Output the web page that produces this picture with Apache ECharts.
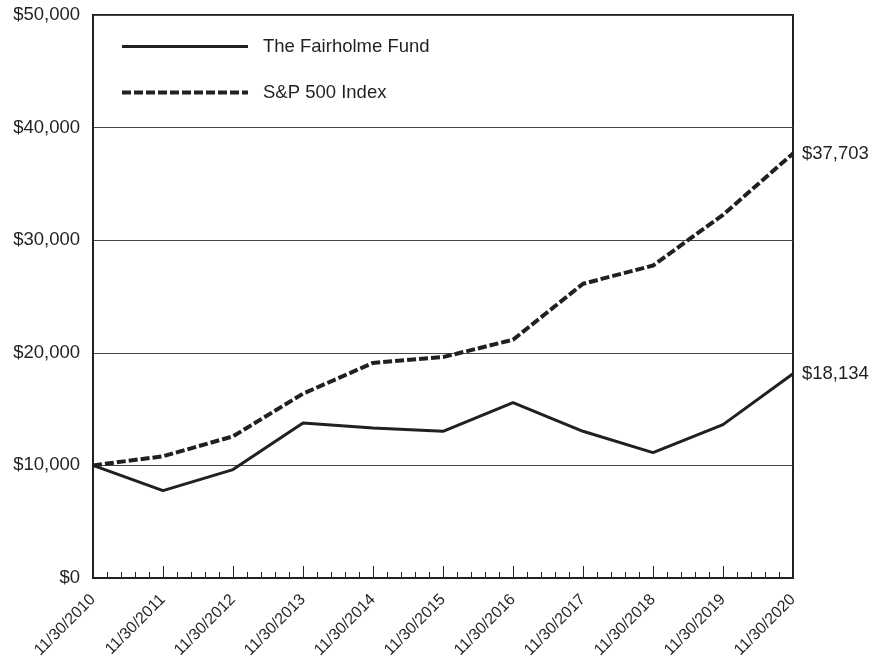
<!DOCTYPE html>
<html>
<head>
<meta charset="utf-8">
<script src="https://cdn.jsdelivr.net/npm/echarts@6/dist/echarts.min.js"></script>
<style>
html,body{margin:0;padding:0;background:#fff;}
#chart{width:872px;height:662px;}
</style>
</head>
<body>
<div id="chart"></div>
<script>
const dates = ['11/30/2010','11/30/2011','11/30/2012','11/30/2013','11/30/2014','11/30/2015','11/30/2016','11/30/2017','11/30/2018','11/30/2019','11/30/2020'];
const fundValues = [10000, 7760, 9630, 13770, 13330, 13030, 15570, 13030, 11140, 13620, 18134];
const spValues = [10000, 10810, 12580, 16370, 19100, 19620, 21160, 26130, 27750, 32250, 37703];
const seriesNames = ['The Fairholme Fund', 'S&P 500 Index'];
const yTicks = [0, 10000, 20000, 30000, 40000, 50000];

const ink = '#231f20';
const font = 'Liberation Sans, Arial, Helvetica, sans-serif';
const fmt = v => '$' + Math.round(v).toLocaleString('en-US');
const solidStyle = {color: ink, width: 3};
const dashStyle = {color: ink, width: 4, type: [9, 3]};

const chart = echarts.init(document.getElementById('chart'));
chart.setOption({
  animation: false,
  backgroundColor: '#fff',
  grid: {left: 93, right: 79, top: 15, bottom: 84, show: true, borderColor: ink, borderWidth: 2},
  legend: {
    orient: 'vertical', left: 115, top: 32, itemGap: 27,
    itemWidth: 126, itemHeight: 14,
    textStyle: {color: ink, fontSize: 18.5, fontFamily: font, padding: [0, 0, 0, 10]},
    data: [
      {name: seriesNames[0], itemStyle: {opacity: 0}, lineStyle: solidStyle},
      {name: seriesNames[1], itemStyle: {opacity: 0}, lineStyle: dashStyle}
    ]
  },
  xAxis: {
    type: 'value', min: 0, max: dates.length - 1, interval: 1,
    axisLine: {show: true, lineStyle: {color: ink, width: 2}},
    axisTick: {show: true, inside: true, length: 12, lineStyle: {color: ink, width: 1}},
    minorTick: {show: true, splitNumber: 5, length: 6, lineStyle: {color: ink, width: 1}},
    splitLine: {show: false},
    axisLabel: {
      formatter: v => dates[v] || '', rotate: 45, margin: 19,
      color: ink, fontSize: 16, fontFamily: font
    }
  },
  yAxis: {
    type: 'value', min: yTicks[0], max: yTicks[yTicks.length - 1], interval: yTicks[1] - yTicks[0],
    axisLine: {show: true, lineStyle: {color: ink, width: 2}},
    axisTick: {show: false},
    splitLine: {show: true, lineStyle: {color: '#444', width: 1}},
    axisLabel: {formatter: fmt, margin: 13, color: ink, fontSize: 18.5, fontFamily: font}
  },
  series: [
    {
      name: seriesNames[0], type: 'line', symbol: 'none',
      data: fundValues.map((v, i) => [i, v]),
      lineStyle: solidStyle,
      itemStyle: {color: ink},
      endLabel: {show: true, formatter: p => fmt(p.value[1]), distance: 9, color: ink, fontSize: 18.5, fontFamily: font},
      z: 3
    },
    {
      name: seriesNames[1], type: 'line', symbol: 'none',
      data: spValues.map((v, i) => [i, v]),
      lineStyle: dashStyle,
      itemStyle: {color: ink},
      endLabel: {show: true, formatter: p => fmt(p.value[1]), distance: 9, color: ink, fontSize: 18.5, fontFamily: font},
      z: 3
    }
  ]
});
</script>
</body>
</html>
